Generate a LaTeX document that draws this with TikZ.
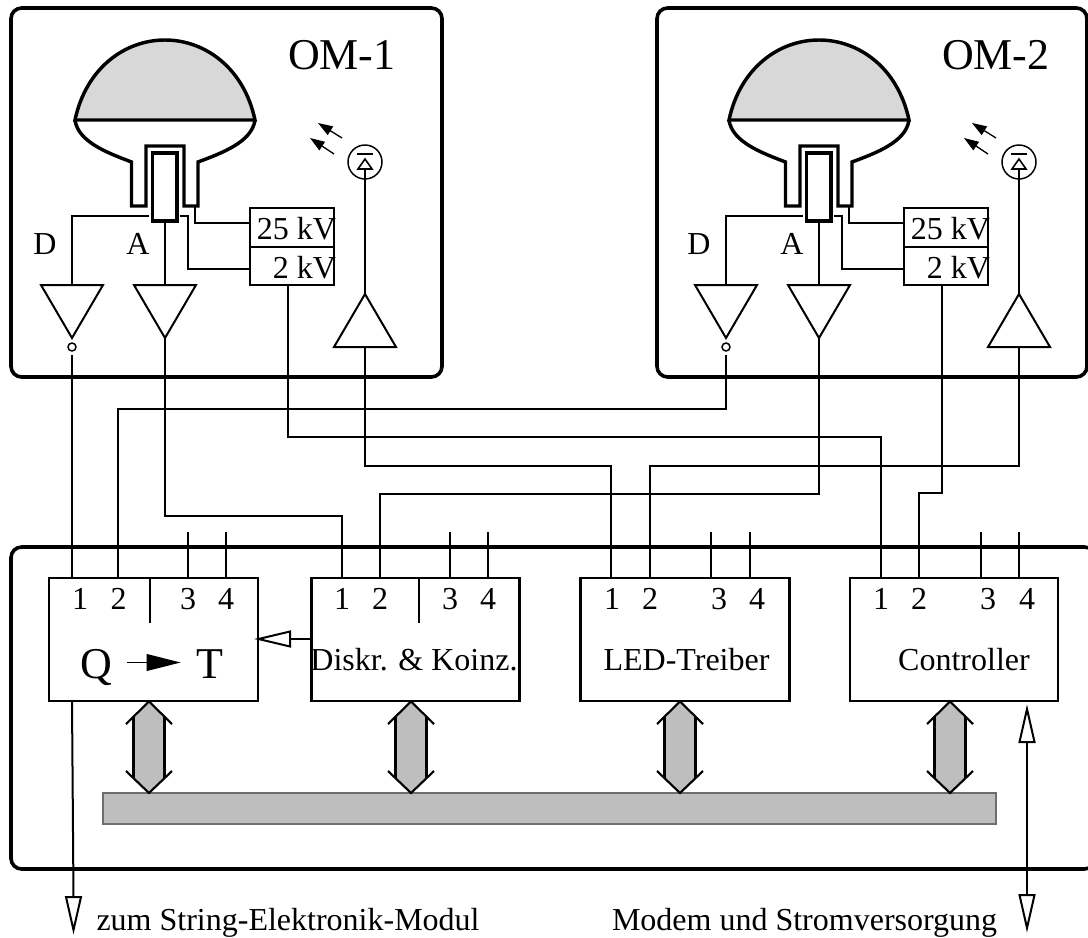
\documentclass[tikz,border=0pt]{standalone}
\usepackage{fontspec}
\setmainfont{Liberation Serif}
\usetikzlibrary{arrows.meta}
\definecolor{domegray}{HTML}{D8D8D8}
\definecolor{busgray}{HTML}{BEBEBE}
\definecolor{busedge}{HTML}{6E6E6E}
\tikzset{
  wire/.style={line width=1.5pt,line cap=butt,line join=miter},
  heavybox/.style={line width=2.7pt,rounded corners=8pt},
  tube/.style={line width=2.6pt,line join=miter},
  ampl/.style={line width=1.5pt,line join=miter,fill=white},
  blockbox/.style={draw,line width=1.6pt,fill=white,rectangle,inner sep=0pt,outer sep=0pt,anchor=north west},
  hvbox/.style={draw,line width=1.6pt,rectangle,inner sep=0pt,outer sep=0pt,anchor=north west,minimum width=63pt,minimum height=57.75pt},
  txt/.style={font=\fontsize{24}{24}\selectfont,inner sep=0pt,outer sep=0pt},
  bigtxt/.style={font=\fontsize{33}{34}\selectfont,inner sep=0pt,outer sep=0pt},
  lightarrow/.style={line width=1pt,-{Triangle[length=11pt,width=7.5pt]}},
  openhead/.style={line width=1.5pt,fill=white,line join=miter},
  busarrow/.style={line width=1.6pt,line join=miter},
}
% #1 name suffix, #2 x shift (px), #3 label
\newcommand{\ommodule}[3]{%
\begin{scope}[xshift=#2*0.75pt]
  \node[bigtxt,anchor=base west] (label#1) at (288,69.3) {#3};
  % glass bulb
  \path[fill=domegray] (75,120) .. controls (86,68) and (125,40) .. (165,40)
     .. controls (205,40) and (244,68) .. (255,120) -- cycle;
  \draw[tube] (75,120) .. controls (86,68) and (125,40) .. (165,40)
     .. controls (205,40) and (244,68) .. (255,120) -- cycle;
  \draw[tube] (75,120) .. controls (78,142) and (108,153) .. (131.5,162)
     -- (131.5,206) -- (146,206) -- (146,146) -- (184,146) -- (184,206) -- (198,206) -- (198,162)
     .. controls (222,153) and (252,142) .. (255,120);
  \node[draw,line width=2.6pt,rectangle,inner sep=0pt,outer sep=0pt,minimum width=18.5pt,minimum height=51pt,anchor=north west] (pmt#1) at (152.5,153) {};
  % high voltage box
  \node[hvbox] (hv#1) at (250,208) {};
  \draw[wire] (250,247) -- (334,247);
  \node[txt,anchor=base east] (kva#1) at (336,239) {25 kV};
  \node[txt,anchor=base east] (kvb#1) at (336,278) {2 kV};
  % amplifiers
  \coordinate (dtop#1) at (72,285);
  \coordinate (atop#1) at (165,285);
  \coordinate (dtip#1) at (72,338);
  \coordinate (atip#1) at (165,338);
  \coordinate (dout#1) at (72,355);
  \coordinate (ledtip#1) at (365,294);
  \coordinate (ledbase#1) at (365,347);
  \coordinate (hvout#1) at (288,285);
  \draw[ampl] (41,285) -- (103,285) -- (72,338) -- cycle;
  \draw[ampl] (134,285) -- (196,285) -- (165,338) -- cycle;
  \draw[ampl] (334,347) -- (396,347) -- (365,294) -- cycle;
  \draw[line width=1.1pt] (72,347) circle[radius=4];
  \node[txt,anchor=base] (dlab#1) at (45,254) {D};
  \node[txt,anchor=base] (alab#1) at (138,254) {A};
  % inner wires
  \coordinate (dfrom#1) at (149,216);
  \coordinate (afrom#1) at (165,222);
  \coordinate (hvafrom#1) at (195,206);
  \coordinate (hvbfrom#1) at (180,216);
  \draw[wire] (dfrom#1) -- (72,216) -- (dtop#1);
  \draw[wire] (afrom#1) -- (atop#1);
  \draw[wire] (hvafrom#1) -- (195,223) -- (250,223);
  \draw[wire] (hvbfrom#1) -- (188,216) -- (188,269) -- (250,269);
  % LED
  \node[draw,circle,line width=1.1pt,minimum size=25.5pt,inner sep=0pt,outer sep=0pt] (led#1) at (365,162) {};
  \draw[line width=1.2pt] (358,169) -- (372,169) -- (365,159) -- cycle;
  \draw[line width=1.2pt] (357,154) -- (373,154);
  \draw[wire] (ledtip#1) -- (365,169);
  \coordinate (raya#1) at (342,138);
  \coordinate (rayb#1) at (334,154);
  \coordinate (raya2#1) at (318,123);
  \coordinate (rayb2#1) at (310,138);
  \draw[lightarrow] (raya#1) -- (raya2#1);
  \draw[lightarrow] (rayb#1) -- (rayb2#1);
\end{scope}}
\newcommand{\busarrowat}[2]{%
  \coordinate (bt#1) at (#2,701.5);
  \coordinate (bb#1) at (#2,793);
  \fill[busgray] (bt#1) -- ++(15.5,15.5) -- (#2+15.5,777.5) -- (bb#1) -- (#2-15.5,777.5) -- (#2-15.5,717) -- cycle;
  \draw[busarrow] (#2-23,724) -- (bt#1) -- (#2+23,724);
  \draw[busarrow] (#2-23,771) -- (bb#1) -- (#2+23,771);
  \draw[busarrow] (#2-15.5,717) -- (#2-15.5,777.5);
  \draw[busarrow] (#2+15.5,717) -- (#2+15.5,777.5);
}
\newcommand{\stubs}[3]{%
  \coordinate (ta#1) at (#2,578);
  \coordinate (tb#1) at (#3,578);
  \draw[wire] (#2,532) -- (ta#1);
  \draw[wire] (#3,532) -- (tb#1);
}
\begin{document}
\begin{tikzpicture}[x=0.75pt,y=-0.75pt]
\useasboundingbox (0,0) rectangle (1088,938);
\clip (0,0) rectangle (1088,938);
% outer boxes
\draw[heavybox] (11,8) rectangle (442,377);
\draw[heavybox] (657,8) rectangle (1087,377);
\draw[heavybox] (11,547) rectangle (1095,869);
\ommodule{one}{0}{OM-1}
\ommodule{two}{654}{OM-2}
% blocks
\node[blockbox,minimum width=156.2pt,minimum height=92.25pt] (qt) at (49.3,578) {};
\node[blockbox,minimum width=156pt,minimum height=92.25pt] (disk) at (311.5,578) {};
\node[blockbox,minimum width=156.75pt,minimum height=92.25pt] (led) at (580.5,578) {};
\node[blockbox,minimum width=156pt,minimum height=92.25pt] (ctrl) at (850,578) {};
\draw[line width=0.9pt] (150,578) -- (150,623);
\draw[line width=0.9pt] (419,578) -- (419,623);
% numbers
\foreach \n/\x/\t in {a/80/1,b/118.5/2,c/188/3,d/226/4,e/342/1,f/380/2,g/450/3,h/488/4,i/612/1,j/650/2,k/719/3,l/757/4,m/881/1,o/919/2,p/988/3,q/1027/4}
  \node[txt,anchor=base] (num\n) at (\x,609) {\t};
% block labels
\node[bigtxt,anchor=base] (q) at (96.5,678) {Q};
\node[bigtxt,anchor=base] (t) at (209.5,678) {T};
\coordinate (qa) at (126.5,662.5);
\coordinate (qb) at (180.7,662.5);
\draw[line width=1.2pt,-{Triangle[length=25.5pt,width=12.5pt]}] (qa) -- (qb);
\node[txt,anchor=base] (ldisk) at (414,670) {Diskr. \& Koinz.};
\node[txt,anchor=base] (lled) at (686.5,670) {LED-Treiber};
\node[txt,anchor=base] (lctrl) at (964,670) {Controller};
% stubs 3,4
\stubs{qt}{188}{226}
\stubs{di}{449.5}{488}
\stubs{le}{711}{749.5}
\stubs{co}{980.5}{1018.5}
% connectors
\coordinate (qt1) at (72,578);
\coordinate (qt2) at (118,578);
\coordinate (di1) at (342,578);
\coordinate (di2) at (380,578);
\coordinate (le1) at (611,578);
\coordinate (le2) at (649.5,578);
\coordinate (co1) at (880.5,578);
\coordinate (co2) at (919,578);
\draw[wire] (doutone) -- (qt1);
\draw[wire] (douttwo) |- (118,409) -- (qt2);
\draw[wire] (atipone) -- (165,516) -- (342,516) -- (di1);
\draw[wire] (atiptwo) -- (819,494) -- (380,494) -- (di2);
\draw[wire] (hvoutone) -- (288,437) -- (880.5,437) -- (co1);
\draw[wire] (hvouttwo) -- (942,493) -- (919,493) -- (co2);
\draw[wire] (ledbaseone) -- (365,466) -- (611,466) -- (le1);
\draw[wire] (ledbasetwo) -- (1019,466) -- (649.5,466) -- (le2);
% bus
\node[draw=busedge,fill=busgray,line width=0.8pt,rectangle,inner sep=0pt,outer sep=0pt,anchor=north west,minimum width=669.75pt,minimum height=23.25pt] (bus) at (103,793) {};
\busarrowat{qt}{149}
\busarrowat{di}{411}
\busarrowat{le}{680}
\busarrowat{co}{950}
% Diskr -> Q arrow
\coordinate (dq) at (290,639);
\draw[wire] (disk.west |- dq) -- (dq);
\draw[openhead] (290,631.5) -- (258.5,639) -- (290,646.5) -- cycle;
% outgoing arrows
\coordinate (outa) at (73.5,897);
\draw[wire] (72,701) -- (outa);
\draw[openhead] (66,897) -- (81,897) -- (73.5,930) -- cycle;
\coordinate (pa) at (1027,742);
\coordinate (pb) at (1027,895);
\draw[wire] (pa) -- (pb);
\draw[openhead] (1019.5,742) -- (1034.5,742) -- (1027,709) -- cycle;
\draw[openhead] (1019.5,895) -- (1034.5,895) -- (1027,928) -- cycle;
\node[txt,anchor=base west] (lout) at (96.5,930) {zum String-Elektronik-Modul};
\node[txt,anchor=base west] (lmod) at (612,930) {Modem und Stromversorgung};
\end{tikzpicture}
\end{document}
